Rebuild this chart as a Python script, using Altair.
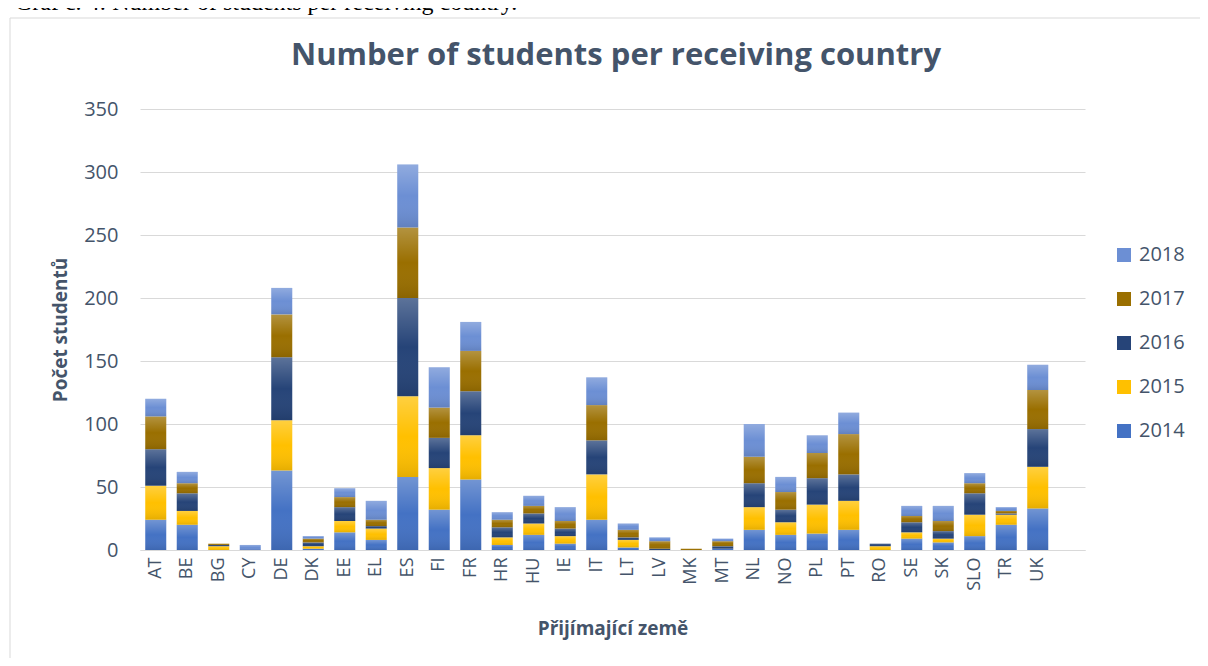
import altair as alt
import pandas as pd

# ---------------- data ----------------
countries = ["AT", "BE", "BG", "CY", "DE", "DK", "EE", "EL", "ES", "FI", "FR", "HR",
             "HU", "IE", "IT", "LT", "LV", "MK", "MT", "NL", "NO", "PL", "PT", "RO",
             "SE", "SK", "SLO", "TR", "UK"]
years = ["2014", "2015", "2016", "2017", "2018"]
v2014 = [24, 20, 0, 0, 63, 1, 14, 8, 58, 32, 56, 4, 12, 5, 24, 2, 0, 0, 1, 16, 12, 13, 16, 0, 9, 6, 11, 20, 33]
v2015 = [27, 11, 3, 0, 40, 2, 9, 9, 64, 33, 35, 6, 9, 6, 36, 6, 0, 0, 0, 18, 10, 23, 23, 3, 5, 3, 17, 8, 33]
v2016 = [29, 14, 1, 0, 50, 3, 11, 2, 78, 24, 35, 8, 8, 6, 27, 2, 1, 0, 2, 19, 10, 21, 21, 2, 8, 6, 17, 1, 30]
v2017 = [26, 8, 1, 0, 34, 3, 8, 5, 56, 24, 32, 6, 6, 6, 28, 6, 6, 1, 4, 21, 14, 20, 32, 0, 5, 8, 8, 2, 31]
v2018 = [14, 9, 0, 4, 21, 2, 7, 15, 50, 32, 23, 6, 8, 11, 22, 5, 3, 0, 2, 26, 12, 14, 17, 0, 8, 12, 8, 3, 20]
y_ticks = [0, 50, 100, 150, 200, 250, 300, 350]

title_text = "Number of students per receiving country"
caption_text = "Graf č. 4: Number of students per receiving country."
x_title = "Přijímající země"
y_title = "Počet studentů"

series = {"2014": v2014, "2015": v2015, "2016": v2016, "2017": v2017, "2018": v2018}
rows = [{"country": c, "year": y, "value": series[y][i]}
        for y in years for i, c in enumerate(countries)]
df = pd.DataFrame(rows)

legend_order = ["2018", "2017", "2016", "2015", "2014"]
colors = {"2018": "#6C8FD4", "2017": "#9A6F00", "2016": "#264478",
          "2015": "#FFC000", "2014": "#4472C4"}

TEXT = "#44546A"
FONT = "Open Sans"
GRID = "#D9D9D9"

# one empty extra category at the end (Excel leaves a blank slot on the right)
x_domain = countries + [" "]

base = alt.Chart(df).transform_stack(
    stack="value", groupby=["country"], as_=["y0", "y1"],
    sort=[alt.SortField(field="year", order="ascending")],
)

x_enc = alt.X(
    "country:N",
    scale=alt.Scale(domain=x_domain, paddingInner=1 / 3, paddingOuter=1 / 6),
    axis=alt.Axis(title=x_title, labelAngle=-90, labelFontSize=18, labelFont=FONT,
                  labelColor=TEXT, labelPadding=7, ticks=False, domainColor=GRID,
                  domainWidth=1, grid=False, titleFontSize=19, titleFont=FONT,
                  titleFontWeight="bold", titleColor=TEXT, titlePadding=29),
)
y_enc = alt.Y(
    "y1:Q",
    scale=alt.Scale(domain=[0, 350], nice=False),
    axis=alt.Axis(title=y_title, values=y_ticks, labelFontSize=20, labelFont=FONT,
                  labelColor=TEXT, labelPadding=22, ticks=False, domain=False,
                  gridColor=GRID, gridWidth=1, titleFontSize=19, titleFont=FONT,
                  titleFontWeight="bold", titleColor=TEXT, titlePadding=13),
)

bars = base.mark_bar().encode(
    x=x_enc,
    y=y_enc,
    y2="y0:Q",
    color=alt.Color(
        "year:N",
        scale=alt.Scale(domain=legend_order, range=[colors[y] for y in legend_order]),
        legend=alt.Legend(title=None, orient="none", legendX=974, legendY=136,
                          symbolType="square", symbolSize=196, symbolStrokeWidth=0,
                          labelFontSize=20, labelFont=FONT, labelColor=TEXT,
                          rowPadding=24, labelOffset=5, padding=0),
    ),
)

shade = base.mark_bar(
    fill=alt.LinearGradient(
        gradient="linear", x1=0, x2=0, y1=0, y2=1,
        stops=[alt.GradientStop(color="rgba(255,255,255,0.25)", offset=0),
               alt.GradientStop(color="rgba(255,255,255,0)", offset=0.5),
               alt.GradientStop(color="rgba(0,0,0,0.10)", offset=1)],
    )
).encode(x="country:N", y="y1:Q", y2="y0:Q")

frame = alt.Chart(pd.DataFrame({"a": [0]})).mark_rect(
    fillOpacity=0, stroke=GRID, strokeWidth=1
).encode(x=alt.value(-130), x2=alt.value(1300), y=alt.value(-91), y2=alt.value(800))

caption = alt.Chart(pd.DataFrame({"t": [caption_text]})).mark_text(
    align="left", baseline="alphabetic", font="Liberation Serif", fontSize=24, color="black"
).encode(x=alt.value(-125), y=alt.value(-99), text="t:N")

title = alt.Chart(pd.DataFrame({"t": [title_text]})).mark_text(
    align="center", baseline="middle", font=FONT, fontSize=31, fontWeight="bold", color=TEXT
).encode(x=alt.value(476), y=alt.value(-53), text="t:N")

chart = alt.layer(frame, bars, shade, caption, title).properties(
    width=945,
    height=441,
    autosize=alt.AutoSizeParams(type="none"),
    padding={"left": 132, "top": 101, "right": 115, "bottom": 108},
).configure_view(stroke=None)

chart.save("out.html", embed_options={"renderer": "svg", "actions": False})
